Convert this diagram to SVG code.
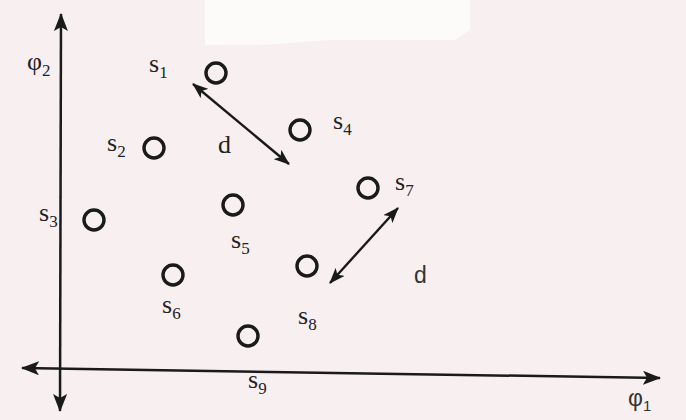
<svg xmlns="http://www.w3.org/2000/svg" width="686" height="420" viewBox="0 0 686 420">
<defs>
<style>
.pt{fill:none;stroke:#1a1a1a;stroke-width:3.4}
.ax{stroke:#1a1a1a;stroke-width:2.5;fill:none}
.ar{stroke:#1a1a1a;stroke-width:2.4;fill:none}
.lb{font-family:"Liberation Serif","DejaVu Serif",serif;font-size:26px;fill:#222}
.sb{font-size:17px}
.ls{font-family:"Liberation Sans","DejaVu Sans",sans-serif;font-size:23px;fill:#333}
</style>
<marker id="ah" viewBox="0 0 16 12" refX="15" refY="6" markerWidth="16" markerHeight="12" markerUnits="userSpaceOnUse" orient="auto-start-reverse">
<path d="M0,0 L16,6 L0,12 L4,6 Z" fill="#1a1a1a"/>
</marker>
<marker id="ah2" viewBox="0 0 18 14" refX="17" refY="7" markerWidth="18" markerHeight="14" markerUnits="userSpaceOnUse" orient="auto-start-reverse">
<path d="M0,0 L18,7 L0,14 L4,7 Z" fill="#1a1a1a"/>
</marker>
</defs>
<rect width="686" height="420" fill="#f8eff1"/>
<path d="M205,0 H470 V30 L455,40 H330 L260,45 H205 Z" fill="#fdfafa"/>
<g id="connectors">
<line class="ax" x1="60" y1="411" x2="61" y2="14" marker-end="url(#ah2)" marker-start="url(#ah2)"/>
<line class="ax" x1="22" y1="368" x2="660" y2="378" marker-end="url(#ah2)" marker-start="url(#ah2)"/>
<line class="ar" x1="193" y1="84" x2="289" y2="164" marker-end="url(#ah)" marker-start="url(#ah)"/>
<line class="ar" x1="398" y1="208" x2="330" y2="283" marker-end="url(#ah)" marker-start="url(#ah)"/>
</g>
<g id="axis-labels">
<text class="lb" x="27" y="70">φ<tspan class="sb" dy="6">2</tspan></text>
<text class="ls" x="628" y="406">φ<tspan font-size="15" dy="5">1</tspan></text>
<text class="lb" x="218" y="153">d</text>
<text class="ls" x="414" y="283">d</text>
</g>
<g id="s1"><circle class="pt" cx="216" cy="73" r="10"/><text class="lb" x="149" y="72">s<tspan class="sb" dy="6">1</tspan></text></g>
<g id="s2"><circle class="pt" cx="154" cy="148" r="10"/><text class="lb" x="107" y="151">s<tspan class="sb" dy="6">2</tspan></text></g>
<g id="s3"><circle class="pt" cx="94" cy="220" r="10"/><text class="lb" x="39" y="221">s<tspan class="sb" dy="6">3</tspan></text></g>
<g id="s4"><circle class="pt" cx="300" cy="130" r="10"/><text class="lb" x="333" y="129">s<tspan class="sb" dy="6">4</tspan></text></g>
<g id="s5"><circle class="pt" cx="233" cy="205" r="10"/><text class="lb" x="231" y="248">s<tspan class="sb" dy="6">5</tspan></text></g>
<g id="s6"><circle class="pt" cx="173" cy="275" r="10"/><text class="lb" x="162" y="313">s<tspan class="sb" dy="6">6</tspan></text></g>
<g id="s7"><circle class="pt" cx="368" cy="188" r="10"/><text class="lb" x="395" y="190">s<tspan class="sb" dy="6">7</tspan></text></g>
<g id="s8"><circle class="pt" cx="307" cy="266" r="10"/><text class="lb" x="298" y="324">s<tspan class="sb" dy="6">8</tspan></text></g>
<g id="s9"><circle class="pt" cx="248" cy="336" r="10"/><text class="lb" x="248" y="388">s<tspan class="sb" dy="6">9</tspan></text></g>
</svg>
